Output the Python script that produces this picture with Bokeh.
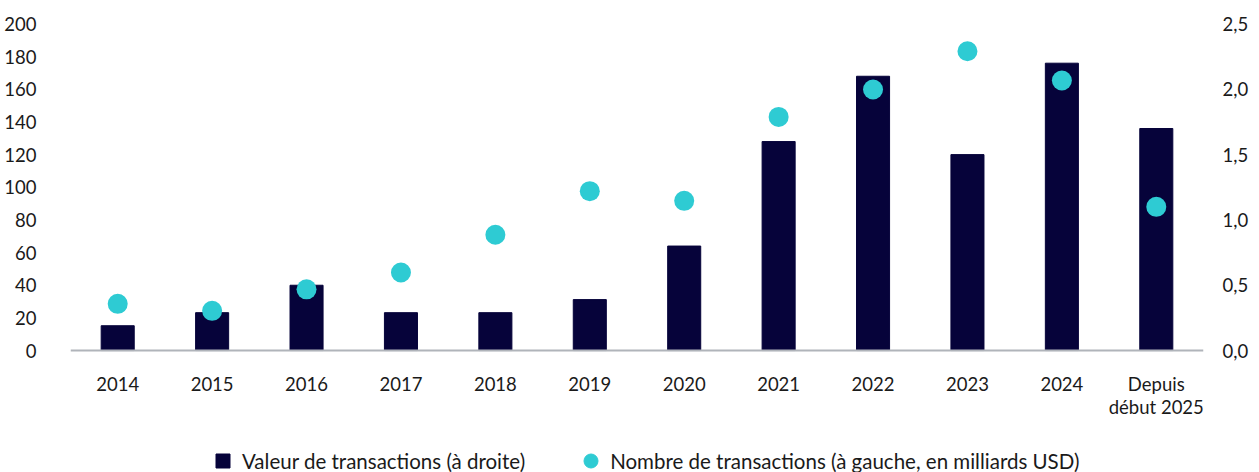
from bokeh.plotting import figure
from bokeh.models import (Range1d, LinearAxis, FixedTicker, CustomJSTickFormatter,
                          FactorRange, Legend, LegendItem)
from bokeh.embed import file_html
from bokeh.resources import INLINE

# ---- data ----
categories = ["2014", "2015", "2016", "2017", "2018", "2019", "2020",
              "2021", "2022", "2023", "2024", "Depuis\ndébut 2025"]
valeur = [0.19, 0.29, 0.5, 0.29, 0.29, 0.39, 0.8, 1.6, 2.1, 1.5, 2.2, 1.7]      # right axis
nombre = [28.6, 24.3, 37.5, 47.8, 70.9, 97.6, 91.7, 143.1, 159.9, 183.3, 165.4, 88.0]  # left axis
left_ticks = [0, 20, 40, 60, 80, 100, 120, 140, 160, 180, 200]
right_ticks = [0.0, 0.5, 1.0, 1.5, 2.0, 2.5]
legend_labels = ["Valeur de transactions (à droite)",
                 "Nombre de transactions (à gauche, en milliards USD)"]

BAR = "#06033a"
DOT = "#2ecbd3"
AXIS = "#b0b4ba"
TXT = "#1a1a1a"
FONT = "Lato"
TICK_FS = "18.5px"

# frame spans from the top margin down to the bottom of the canvas; the
# category axis sits at y = 0 so the legend can live inside the frame below it
Y_TOP, Y_BOT = 204.6, -74.7
RATIO = 2.5 / 200

p = figure(width=1251, height=472, x_range=FactorRange(*categories),
           y_range=Range1d(Y_BOT, Y_TOP), output_backend="svg", toolbar_location=None,
           min_border_left=70, min_border_right=44, min_border_top=16, min_border_bottom=0,
           title=None)
p.extra_y_ranges = {"right": Range1d(Y_BOT * RATIO, Y_TOP * RATIO)}

bars = p.vbar(x=categories, top=valeur, width=0.35, color=BAR, y_range_name="right")
dots = p.scatter(x=categories, y=nombre, size=20, color=DOT, line_color=None)

p.grid.visible = False
p.outline_line_color = None

# x axis, fixed at y = 0
xa = p.xaxis[0]
xa.fixed_location = 0
xa.axis_line_color = AXIS
xa.axis_line_width = 2
xa.major_tick_line_color = None
xa.minor_tick_line_color = None
xa.major_label_standoff = 16
xa.major_label_text_font = FONT
xa.major_label_text_font_size = TICK_FS
xa.major_label_text_color = TXT
xa.major_label_text_line_height = 1.05

# left axis
ya = p.yaxis[0]
ya.ticker = FixedTicker(ticks=left_ticks)
ya.axis_line_color = None
ya.major_tick_line_color = None
ya.minor_tick_line_color = None
ya.major_label_standoff = 28
ya.major_label_text_font = FONT
ya.major_label_text_font_size = TICK_FS
ya.major_label_text_color = TXT

# right axis
ra = LinearAxis(y_range_name="right")
ra.ticker = FixedTicker(ticks=right_ticks)
ra.formatter = CustomJSTickFormatter(code="return tick.toFixed(1).replace('.', ',');")
ra.axis_line_color = None
ra.major_tick_line_color = None
ra.minor_tick_line_color = None
ra.major_label_standoff = 13
ra.major_label_text_font = FONT
ra.major_label_text_font_size = TICK_FS
ra.major_label_text_color = TXT
p.add_layout(ra, "right")

# legend-only renderers so the legend marker sizes match the reference
leg_sq = p.scatter(x=[categories[0]], y=[-1000], marker="square", size=14, color=BAR)
leg_ci = p.scatter(x=[categories[0]], y=[-1000], marker="circle", size=14, color=DOT)

legend = Legend(items=[LegendItem(label=legend_labels[0], renderers=[leg_sq]),
                       LegendItem(label=legend_labels[1], renderers=[leg_ci])],
                orientation="horizontal", location=(135, -6),
                glyph_width=35, glyph_height=35, label_standoff=2, spacing=48,
                padding=0, margin=0, border_line_color=None, background_fill_alpha=0,
                label_text_font=FONT, label_text_font_size="20.5px", label_text_color=TXT)
p.add_layout(legend, "center")

open("out.html", "w").write(file_html(p, INLINE))
